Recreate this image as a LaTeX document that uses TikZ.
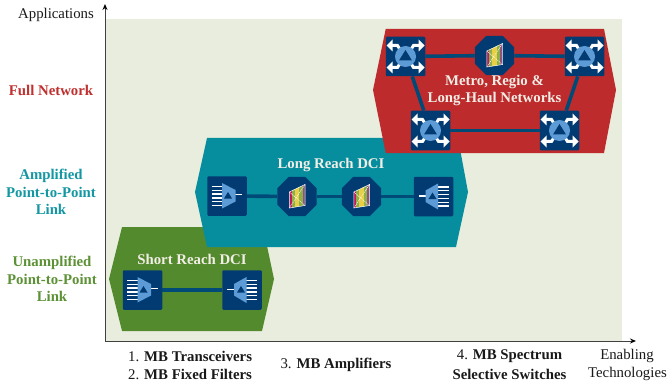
\documentclass[tikz,border=0pt]{standalone}
\usepackage{fontspec}
\setmainfont{Liberation Serif}
\usetikzlibrary{shapes.geometric,arrows.meta}
\definecolor{bgc}{HTML}{E9EDDD}
\definecolor{redc}{HTML}{BD2B2C}
\definecolor{tealc}{HTML}{078E9E}
\definecolor{greenc}{HTML}{548A2E}
\definecolor{navy}{HTML}{023B72}
\definecolor{linkc}{HTML}{004A78}
\definecolor{lblue}{HTML}{5C9BD5}
\definecolor{redt}{HTML}{C0302F}
\definecolor{tealt}{HTML}{1297A3}
\definecolor{greent}{HTML}{5C9135}
\definecolor{whitet}{HTML}{F2EEE6}
\definecolor{wcrim}{HTML}{C2185B}
\definecolor{wolive}{HTML}{8DB04A}
\definecolor{wyel}{HTML}{E8CF45}
\definecolor{wpurp}{HTML}{96507F}
\tikzset{
  x=1pt,y=-1pt,
  boxn/.style={fill=navy,rounded corners=1.2pt,minimum size=39.5pt,inner sep=0pt},
  octn/.style={fill=navy,regular polygon,regular polygon sides=8,minimum size=42.5pt,inner sep=0pt},
  link/.style={draw=linkc,line width=3.6pt},
  axisl/.style={draw=black!75,line width=1pt,-{Stealth[length=6pt,width=5pt,black]}},
  inlabel/.style={text=whitet,font=\fontsize{14.8}{17}\selectfont\bfseries,align=center,inner sep=0pt},
  sidelabel/.style={font=\fontsize{14.8}{17.5}\selectfont\bfseries,align=center,inner sep=0pt},
  axlabel/.style={font=\fontsize{14.8}{18}\selectfont,text=black!90,inner sep=0pt},
  pics/switchicon/.style={code={
    \foreach \sx/\sy in {-1/-1,1/-1,-1/1,1/1}{
      \draw[white,line width=3pt] (\sx*3,\sy*3)--(\sx*8,\sy*11)--(\sx*14,\sy*11);
      \fill[white] (\sx*19,\sy*11)--(\sx*13,\sy*5)--(\sx*13,\sy*17)--cycle;
    }
    \fill[lblue] (0,0) circle (10.5);
    \fill[navy] (0,-6.5)--(6.5,4)--(-6.5,4)--cycle;
  }},
  pics/txicon/.style={code={
    \foreach \yy in {-9.5,-5.7,-1.9,1.9,5.7,9.5}
      \draw[white,line width=1.3pt] (-15.5,\yy)--(-4,\yy);
    \draw[white,line width=1.4pt] (8,-1.5)--(15,-1.5);
    \fill[lblue] (-5,-13)--(8.5,-6)--(8.5,5.5)--(-5,12.5)--cycle;
    \fill[navy] (1,-4)--(5,2.5)--(-3,2.5)--cycle;
  }},
  pics/rxicon/.style={code={
    \foreach \yy in {-9.5,-5.7,-1.9,1.9,5.7,9.5}
      \draw[white,line width=1.3pt] (15,\yy)--(4,\yy);
    \draw[white,line width=1.4pt] (-8,-0.5)--(-15,-0.5);
    \fill[lblue] (4.5,-13)--(-8,-6)--(-8,5.5)--(4.5,13)--cycle;
    \fill[navy] (-1,-4)--(3,2.5)--(-5,2.5)--cycle;
  }},
  pics/wssicon/.style={code={
    \begin{scope}
      \clip (-7.7,-4.5)--(8,-12)--(8,9)--(-7.7,11.5)--cycle;
      \fill[wcrim] (-7.7,-13) rectangle (-5.5,13);
      \fill[wolive] (-5.5,-13) rectangle (-2.5,13);
      \fill[wyel] (-2.5,-13) rectangle (2,13);
      \fill[wolive] (2,-13) rectangle (5.5,13);
      \fill[wpurp] (5.5,-13) rectangle (8,13);
    \end{scope}
    \draw[white,line width=0.5pt] (-7.7,-4.5)--(8,-12)--(8,9)--(-7.7,11.5)--cycle;
    \draw[white,line width=0.5pt,dash pattern=on 1.2pt off 0.8pt] (-7.7,-4.5)--(8,9);
    \draw[white,line width=0.5pt,dash pattern=on 1.2pt off 0.8pt] (-7.7,11.5)--(8,-12);
  }},
}
\begin{document}
\begin{tikzpicture}
\useasboundingbox (0,0) rectangle (669,385);
\fill[white] (0,0) rectangle (669,385);
\fill[bgc] (106,19) rectangle (622,341);
% axes
\coordinate (orig) at (105,341);
\coordinate (ytip) at (105,4);
\coordinate (xtip) at (636,341);
\draw[axisl] (orig)--(ytip);
\draw[axisl] (orig)--(xtip);
% areas
\fill[greenc] (122,227)--(263,227)--(274,279)--(262,331)--(122,331)--(109,279)--cycle;
\fill[tealc] (207,138)--(458,138)--(468,192)--(456,247)--(207,247)--(195,192)--cycle;
\fill[redc] (385.7,29)--(604,29)--(616,90)--(604,153)--(385.7,153)--(373,90)--cycle;
% nodes
\node[boxn] (tl) at (405.5,56.5) {};
\node[boxn] (tr) at (584.5,56.5) {};
\node[boxn] (bl) at (430.5,130.5) {};
\node[boxn] (br) at (559.5,130.5) {};
\node[octn] (wa) at (494.5,55.5) {};
\node[boxn] (ltx) at (227,196) {};
\node[octn] (wb) at (297,196.5) {};
\node[octn] (wc) at (361.5,196.5) {};
\node[boxn] (lrx) at (433.5,196.5) {};
\node[boxn] (stx) at (142.5,290) {};
\node[boxn] (srx) at (242,290) {};
% links
\draw[link] (tl)--(wa);
\draw[link] (wa)--(tr);
\draw[link] (tl)--(bl);
\draw[link] (tr)--(br);
\draw[link] (bl)--(br);
\draw[link] (ltx)--(wb);
\draw[link] (wb)--(wc);
\draw[link] (wc)--(lrx);
\draw[link] (stx)--(srx);
% icons
\pic at (tl) {switchicon};
\pic at (tr) {switchicon};
\pic at (bl) {switchicon};
\pic at (br) {switchicon};
\pic at (wa) {wssicon};
\pic at (wb) {wssicon};
\pic at (wc) {wssicon};
\pic at (ltx) {txicon};
\pic at (lrx) {rxicon};
\pic at (stx) {txicon};
\pic at (srx) {rxicon};
% labels
\node[inlabel] (lmetro) at (494.5,90.5) {Metro, Regio \&\\Long-Haul Networks};
\node[inlabel] (llong) at (331,165) {Long Reach DCI};
\node[inlabel] (lshort) at (192,259) {Short Reach DCI};
\node[sidelabel,text=redt] (lfull) at (51,90) {Full Network};
\node[sidelabel,text=tealt] (lamp) at (51,192) {Amplified\\Point-to-Point\\Link};
\node[sidelabel,text=greent] (luna) at (52,279) {Unamplified\\Point-to-Point\\Link};
\node[axlabel,anchor=east] (lapp) at (94,14.5) {Applications};
\node[axlabel,anchor=west] (l1) at (128,356) {1. \textbf{MB Transceivers}};
\node[axlabel,anchor=west] (l2) at (128,374) {2. \textbf{MB Fixed Filters}};
\node[axlabel] (l3) at (336,365) {3. \textbf{MB Amplifiers}};
\node[axlabel] (l4) at (509.5,356) {4. \textbf{MB Spectrum}};
\node[axlabel] (l5) at (509.5,374) {\textbf{Selective Switches}};
\node[axlabel] (l6) at (627,356) {Enabling};
\node[axlabel,anchor=east] (l7) at (667,374) {Technologies};
\end{tikzpicture}
\end{document}
